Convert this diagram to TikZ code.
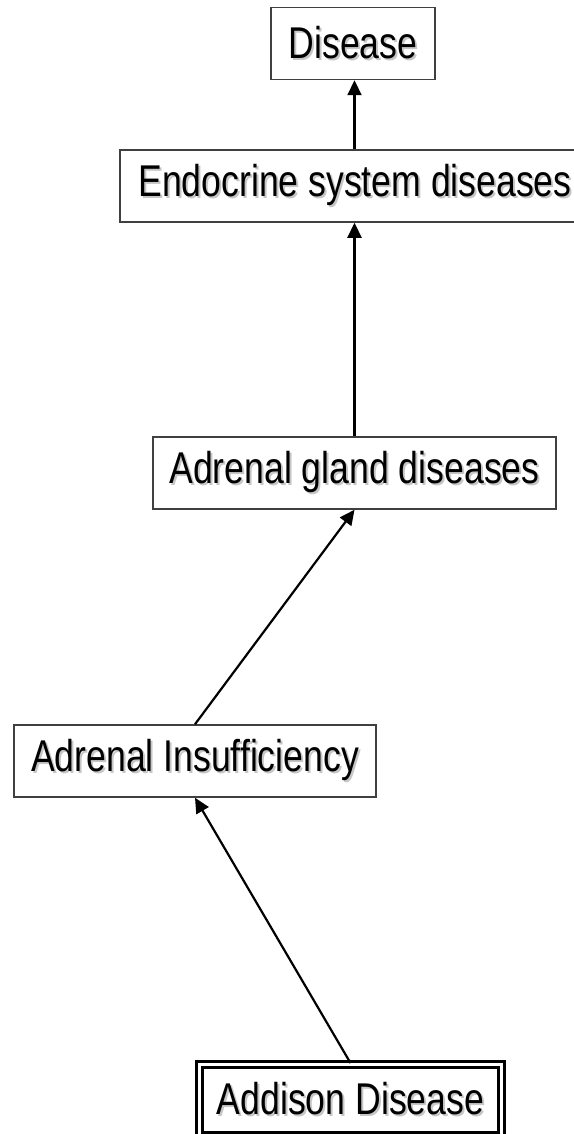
\documentclass[tikz,border=0pt]{standalone}
\usepackage{fontspec}
\setmainfont[FakeStretch=0.8]{Liberation Sans}
\usetikzlibrary{arrows.meta}
\definecolor{boxline}{HTML}{404040}
% label text with a soft grey drop shadow
\newcommand{\shadowed}[1]{%
  \makebox[0pt][l]{\hspace{2pt}\raisebox{-2pt}{\textcolor{gray!45}{#1}}}%
  #1}
\begin{document}
\begin{tikzpicture}[x=1pt,y=-1pt,
  concept/.style={draw=boxline, line width=1.5pt, fill=white, inner sep=0pt,
    minimum height=72pt, font=\fontsize{44.5}{48}\selectfont},
  leaf/.style={concept, draw=black, line width=3pt, double=white, double distance=3pt},
  isa/.style={line width=2.2pt, -{Triangle[length=15pt,width=14pt]}}]
\useasboundingbox (0,0) rectangle (573,1134);

\node[concept, minimum width=164pt] (dis)  at (353,43.5) {\shadowed{Disease}};
\node[concept, minimum width=470pt] (endo) at (355,186)  {\shadowed{Endocrine system diseases}};
\node[concept, minimum width=403pt] (adg)  at (354.5,473) {\shadowed{Adrenal gland diseases}};
\node[concept, minimum width=362pt] (ai)   at (195,761)  {\shadowed{Adrenal Insufficiency}};
\node[leaf, minimum width=302pt, minimum height=71pt] (add) at (350.5,1100) {\shadowed{Addison Disease}};

\draw[isa] (endo.north -| adg.north) -- (dis.south -| adg.north);
\draw[isa] (adg.north) -- (endo.south -| adg.north);
\draw[isa] (ai.north) -- (adg.south);
\draw[isa] (add.north) -- (ai.south);
\end{tikzpicture}
\end{document}
